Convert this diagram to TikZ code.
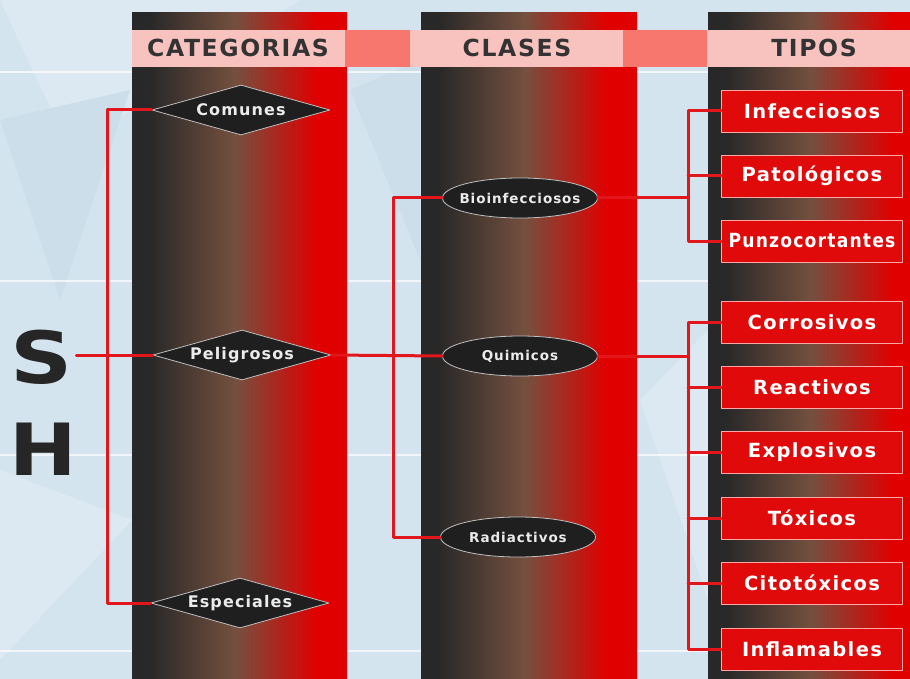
\documentclass[tikz,border=0pt]{standalone}
\usepackage{fontspec}
\usepackage{graphicx}
\usetikzlibrary{shapes.geometric}
\setmainfont{Liberation Sans}
\newfontfamily\lblfont[LetterSpace=7]{DejaVu Sans}
\newfontfamily\bigfont{DejaVu Sans}
\definecolor{bgblue}{HTML}{D4E4EF}
\definecolor{bglight}{HTML}{DDE9F2}
\definecolor{bgdark}{HTML}{CCDEEA}
\definecolor{coldark}{HTML}{282828}
\definecolor{colmid}{HTML}{74503F}
\definecolor{colred}{HTML}{E00000}
\definecolor{bandpink}{HTML}{F8C3BF}
\definecolor{bandsalmon}{HTML}{F7766E}
\definecolor{linkred}{HTML}{E3161B}
\definecolor{boxred}{HTML}{E00A0A}
\definecolor{hdrtext}{HTML}{333333}
\pgfdeclarehorizontalshading{colshade}{100bp}{color(0bp)=(coldark); color(29bp)=(coldark); color(49bp)=(colmid); color(68bp)=(colred); color(100bp)=(colred)}
\tikzset{
  hdr/.style={font=\lblfont\bfseries\fontsize{23.5}{25}\selectfont,text=hdrtext},
  letter/.style={font=\bigfont\bfseries\fontsize{72}{78}\selectfont,text=black!85,inner sep=3pt},
  cat/.style={diamond,aspect=3.6,minimum width=178,minimum height=50,inner sep=0pt,fill=black!88,draw=black!25,line width=0.8,text=black!8,font=\lblfont\bfseries\fontsize{16}{18}\selectfont},
  cls/.style={ellipse,minimum width=155,minimum height=40,inner xsep=-8pt,inner ysep=0pt,fill=black!88,draw=black!25,line width=0.8,text=black!8,font=\lblfont\bfseries\fontsize{13.5}{15}\selectfont},
  tipo/.style={rectangle,minimum width=181,minimum height=42,inner sep=0pt,fill=boxred,draw=red!35,line width=0.8,text=white,font=\lblfont\bfseries\fontsize{19.5}{21}\selectfont},
  link/.style={draw=linkred,line width=3}
}
\begin{document}
\begin{tikzpicture}[line cap=round,line join=round,x=1pt,y=-1pt]
\clip (0,0) rectangle (910,679);
\fill[bgblue] (0,0) rectangle (910,679);
\fill[bglight] (0,0) -- (300,0) -- (70,150) -- cycle;
\fill[bgdark] (0,120) -- (130,90) -- (60,300) -- cycle;
\fill[bglight] (0,470) -- (132,520) -- (0,660) -- cycle;
\fill[bgdark] (350,90) -- (420,60) -- (420,260) -- cycle;
\fill[bglight] (640,400) -- (708,330) -- (708,600) -- cycle;
\draw[white,line width=2,opacity=0.7] (0,72) -- (910,72);
\draw[white,line width=2,opacity=0.7] (0,281) -- (910,281);
\draw[white,line width=2,opacity=0.7] (0,455) -- (910,455);
\draw[white,line width=2,opacity=0.7] (0,651) -- (910,651);
\shade[shading=colshade] (132,13) rectangle (347,679);
\shade[shading=colshade] (421,13) rectangle (637,679);
\shade[shading=colshade] (708,13) rectangle (923,679);
\fill[bandpink] (132,30) rectangle (910,67);
\fill[bandsalmon] (345,30) rectangle (410,67);
\fill[bandsalmon] (623,30) rectangle (707,67);
\node[hdr] (hcat) at (238,48) {CATEGORIAS};
\node[hdr] (hcla) at (517,48) {CLASES};
\node[hdr] (htip) at (814,48) {TIPOS};
\node[letter] (S) at (42,357) {\scalebox{1.2}[1]{S}};
\node[letter] (H) at (43,449) {\scalebox{1.12}[1]{H}};
\node[cat] (comunes) at (241,110) {Comunes};
\node[cat] (peligrosos) at (242,355) {Peligrosos};
\node[cat] (especiales) at (240,603) {Especiales};
\node[cls] (bioinf) at (520,198) {Bioinfecciosos};
\node[cls] (quimicos) at (520,356) {Quimicos};
\node[cls] (radiact) at (518,537) {Radiactivos};
\node[tipo] (infecciosos) at (812,111) {Infecciosos};
\node[tipo] (patologicos) at (812,176) {Patológicos};
\node[tipo] (punzo) at (812,241) {\scalebox{0.88}[1]{Punzocortantes}};
\node[tipo] (corrosivos) at (812,322) {Corrosivos};
\node[tipo] (reactivos) at (812,387) {Reactivos};
\node[tipo] (explosivos) at (812,452) {Explosivos};
\node[tipo] (toxicos) at (812,518) {Tóxicos};
\node[tipo] (citotoxicos) at (812,583) {Citotóxicos};
\node[tipo] (inflamables) at (812,649) {Inflamables};
\coordinate (catbus) at (107,355);
\coordinate (clabus) at (393,356);
\coordinate (biobus) at (688,198);
\coordinate (quibus) at (688,356);
\draw[link] (S.east |- peligrosos.west) -- (peligrosos.west);
\draw[link] (comunes.west) -| (catbus) |- (especiales.west);
\draw[link] (peligrosos.east) -- (quimicos.west);
\draw[link] (bioinf.west) -| (clabus) |- (radiact.west);
\draw[link] (bioinf.east) -- (biobus);
\draw[link] (infecciosos.west) -| (biobus) |- (punzo.west);
\draw[link] (patologicos.west) -- (patologicos.west -| biobus);
\draw[link] (quimicos.east) -- (quibus);
\draw[link] (corrosivos.west) -| (quibus) |- (inflamables.west);
\foreach \n in {reactivos,explosivos,toxicos,citotoxicos}
  \draw[link] (\n.west) -- (\n.west -| quibus);
\end{tikzpicture}
\end{document}
